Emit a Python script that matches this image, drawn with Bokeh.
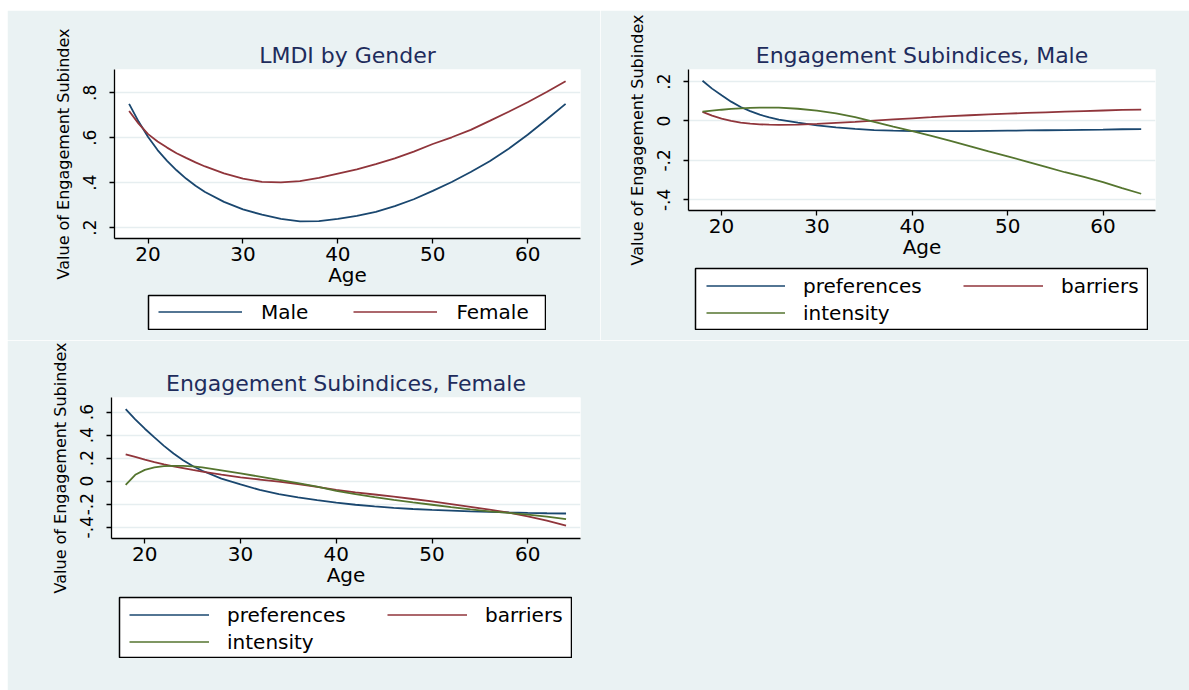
from bokeh.plotting import figure
from bokeh.models import (Range1d, FixedTicker, CustomJSTickFormatter, Legend,
                          LegendItem)
from bokeh.embed import file_html
from bokeh.resources import INLINE

# ---------------- data ----------------
age = [18, 19, 20, 21, 22, 23, 24, 25, 26, 28, 30, 32, 34, 36, 38, 40,
       42, 44, 46, 48, 50, 52, 54, 56, 58, 60, 62, 64]

lmdi_male = [0.751, 0.672, 0.603, 0.545, 0.497, 0.455, 0.418, 0.386, 0.358,
             0.314, 0.281, 0.257, 0.238, 0.227, 0.228, 0.238, 0.252, 0.270,
             0.295, 0.326, 0.363, 0.403, 0.447, 0.495, 0.551, 0.613, 0.681, 0.751]
lmdi_female = [0.719, 0.663, 0.616, 0.583, 0.556, 0.531, 0.510, 0.490, 0.472,
               0.441, 0.418, 0.403, 0.401, 0.407, 0.421, 0.440, 0.459, 0.482,
               0.508, 0.538, 0.572, 0.602, 0.635, 0.675, 0.716, 0.758, 0.804, 0.852]

male_pref = [0.204, 0.164, 0.130, 0.098, 0.071, 0.050, 0.032, 0.018, 0.007,
             -0.008, -0.022, -0.032, -0.040, -0.046, -0.049, -0.051, -0.052, -0.052,
             -0.051, -0.050, -0.049, -0.048, -0.047, -0.046, -0.045, -0.044, -0.042, -0.041]
male_barr = [0.046, 0.027, 0.012, 0.001, -0.008, -0.013, -0.017, -0.019, -0.020,
             -0.019, -0.015, -0.010, -0.005, 0.002, 0.008, 0.0135, 0.019, 0.025,
             0.029, 0.033, 0.037, 0.041, 0.044, 0.047, 0.050, 0.053, 0.056, 0.058]
male_int = [0.047, 0.052, 0.057, 0.061, 0.064, 0.066, 0.0675, 0.068, 0.0675,
            0.062, 0.052, 0.039, 0.020, -0.005, -0.029, -0.052, -0.076, -0.101,
            -0.127, -0.154, -0.179, -0.206, -0.233, -0.260, -0.284, -0.310, -0.340, -0.369]

fem_pref = [0.625, 0.537, 0.455, 0.380, 0.306, 0.240, 0.182, 0.131, 0.090,
            0.022, -0.029, -0.076, -0.112, -0.141, -0.165, -0.187, -0.205, -0.220,
            -0.233, -0.242, -0.250, -0.256, -0.262, -0.267, -0.272, -0.276, -0.279, -0.281]
fem_barr = [0.233, 0.210, 0.187, 0.166, 0.146, 0.129, 0.113, 0.097, 0.083,
            0.056, 0.032, 0.014, -0.005, -0.025, -0.050, -0.076, -0.097, -0.116,
            -0.135, -0.155, -0.176, -0.199, -0.223, -0.248, -0.274, -0.305, -0.343, -0.387]
fem_int = [-0.032, 0.055, 0.098, 0.120, 0.130, 0.133, 0.133, 0.128, 0.119,
           0.094, 0.068, 0.039, 0.010, -0.018, -0.048, -0.085, -0.112, -0.139,
           -0.163, -0.185, -0.205, -0.226, -0.246, -0.262, -0.275, -0.290, -0.308, -0.330]

x_ticks = [20, 30, 40, 50, 60]
y_ticks_1 = [0.2, 0.4, 0.6, 0.8]
y_ticks_2 = [-0.4, -0.2, 0.0, 0.2]
y_ticks_3 = [-0.4, -0.2, 0.0, 0.2, 0.4, 0.6]

titles = ["LMDI by Gender", "Engagement Subindices, Male",
          "Engagement Subindices, Female"]
x_title = "Age"
y_title = "Value of Engagement Subindex"
gender_labels = ["Male", "Female"]
sub_labels = ["preferences", "barriers", "intensity"]

# ---------------- style ----------------
BG = "#eaf2f3"
GRID = "#e6eef0"
NAVY = "#1a476f"
MAROON = "#90353b"
GREEN = "#55752f"
TITLE_C = "#1e2c5c"
FONT = "DejaVu Sans"
LW = 1.8

fmt = CustomJSTickFormatter(code="""
const s = tick.toFixed(1);
if (s === "0.0" || s === "-0.0") { return "0"; }
return s.replace("0.", ".");
""")


def place(p, left, top):
    p.styles = {"position": "absolute", "left": f"{left}px", "top": f"{top}px"}


def make_fig(left, top, w, h, xr, yr, yticks, mbl, mbr, mbt, mbb, title):
    p = figure(width=w, height=h, x_range=Range1d(*xr), y_range=Range1d(*yr),
               output_backend="svg", toolbar_location=None,
               min_border_left=mbl, min_border_right=mbr,
               min_border_top=mbt, min_border_bottom=mbb)
    place(p, left, top)
    p.background_fill_color = "white"
    p.border_fill_color = BG
    p.outline_line_color = None

    p.title.text = title
    p.title.align = "center"
    p.title.text_font = FONT
    p.title.text_font_size = "22px"
    p.title.text_font_style = "normal"
    p.title.text_color = TITLE_C
    p.title.standoff = 3

    p.xaxis.ticker = FixedTicker(ticks=x_ticks)
    p.yaxis.ticker = FixedTicker(ticks=yticks)
    p.ygrid.ticker = FixedTicker(ticks=yticks)
    p.yaxis.formatter = fmt
    p.xgrid.visible = False
    p.ygrid.grid_line_color = GRID
    p.ygrid.grid_line_width = 1.5

    for ax in (p.xaxis[0], p.yaxis[0]):
        ax.axis_line_color = "black"
        ax.axis_line_width = 1.3
        ax.major_tick_line_color = "black"
        ax.major_tick_line_width = 1.3
        ax.major_tick_out = 5
        ax.major_tick_in = 0
        ax.minor_tick_line_color = None
        ax.major_label_text_font = FONT
        ax.major_label_text_color = "black"
        ax.axis_label_text_font = FONT
        ax.axis_label_text_font_style = "normal"
        ax.axis_label_text_color = "black"

    p.xaxis.axis_label = x_title
    p.xaxis.major_label_text_font_size = "20px"
    p.xaxis.axis_label_text_font_size = "20px"
    p.xaxis.major_label_standoff = 3
    p.xaxis.axis_label_standoff = -1

    p.yaxis.axis_label = y_title
    p.yaxis.major_label_orientation = "vertical"
    p.yaxis.major_label_text_font_size = "17px"
    p.yaxis.axis_label_text_font_size = "16px"
    p.yaxis.major_label_standoff = 13
    p.yaxis.axis_label_standoff = 8
    return p


def legend_fig(left, top, w, h):
    # a small boxed figure that only hosts the legend
    f = figure(width=w + 2, height=h + 2, x_range=Range1d(0, 1), y_range=Range1d(0, 1),
               output_backend="svg", toolbar_location=None, min_border=1,
               x_axis_location=None, y_axis_location=None, title=None)
    place(f, left - 1, top - 1)
    f.xgrid.visible = False
    f.ygrid.visible = False
    f.background_fill_color = "white"
    f.border_fill_color = BG
    f.outline_line_color = "black"
    f.outline_line_width = 1.5
    return f


def make_legend(items, loc, glyph_w, standoff, spacing, orientation="vertical"):
    lg = Legend(items=items, location=loc, orientation=orientation)
    lg.label_text_font = FONT
    lg.label_text_font_size = "20px"
    lg.label_text_color = "black"
    lg.padding = 0
    lg.margin = 0
    lg.glyph_height = 25
    lg.label_height = 25
    lg.glyph_width = glyph_w
    lg.label_standoff = standoff
    lg.spacing = spacing
    lg.border_line_color = None
    lg.background_fill_alpha = 0
    return lg


# ---- panel 1 ----
p1 = make_fig(7, 10, 593, 330, (16.46, 65.57), (0.151, 0.904), y_ticks_1,
              107, 20, 59, 102, titles[0])
p1.line(age, lmdi_male, line_color=NAVY, line_width=LW)
p1.line(age, lmdi_female, line_color=MAROON, line_width=LW)

l1 = legend_fig(148, 295, 397, 34)
k_m = l1.line(age, lmdi_male, line_color=NAVY, line_width=1.3)
k_f = l1.line(age, lmdi_female, line_color=MAROON, line_width=1.3)
l1.add_layout(make_legend([LegendItem(label=gender_labels[0], renderers=[k_m]),
                           LegendItem(label=gender_labels[1], renderers=[k_f])],
                          (10, 5), 84, 19, 45, "horizontal"))

# ---- panel 2 ----
p2 = make_fig(600, 10, 589, 330, (16.53, 65.5), (-0.454, 0.261), y_ticks_2,
              88, 34, 59, 130, titles[1])
p2.line(age, male_pref, line_color=NAVY, line_width=LW)
p2.line(age, male_barr, line_color=MAROON, line_width=LW)
p2.line(age, male_int, line_color=GREEN, line_width=LW)

l2 = legend_fig(695, 268, 452, 61)
k2a = l2.line(age, male_pref, line_color=NAVY, line_width=1.3)
k2b = l2.line(age, male_barr, line_color=MAROON, line_width=1.3)
k2c = l2.line(age, male_int, line_color=GREEN, line_width=1.3)
l2.add_layout(make_legend([LegendItem(label=sub_labels[0], renderers=[k2a]),
                           LegendItem(label=sub_labels[2], renderers=[k2c])],
                          (11, 4), 79, 18, 2))
l2.add_layout(make_legend([LegendItem(label=sub_labels[1], renderers=[k2b])],
                          (268, 31), 80, 18, 2))

# ---- panel 3 ----
p3 = make_fig(7, 340, 1182, 350, (16.52, 65.51), (-0.498, 0.726), y_ticks_3,
              104, 609, 57, 152, titles[2])
p3.line(age, fem_pref, line_color=NAVY, line_width=LW)
p3.line(age, fem_barr, line_color=MAROON, line_width=LW)
p3.line(age, fem_int, line_color=GREEN, line_width=LW)

l3 = legend_fig(119, 597, 452, 60)
k3a = l3.line(age, fem_pref, line_color=NAVY, line_width=1.3)
k3b = l3.line(age, fem_barr, line_color=MAROON, line_width=1.3)
k3c = l3.line(age, fem_int, line_color=GREEN, line_width=1.3)
l3.add_layout(make_legend([LegendItem(label=sub_labels[0], renderers=[k3a]),
                           LegendItem(label=sub_labels[2], renderers=[k3c])],
                          (10, 3), 80, 18, 2))
l3.add_layout(make_legend([LegendItem(label=sub_labels[1], renderers=[k3b])],
                          (268, 30), 80, 18, 2))

open("out.html", "w").write(file_html([p1, p2, p3, l1, l2, l3], INLINE))
